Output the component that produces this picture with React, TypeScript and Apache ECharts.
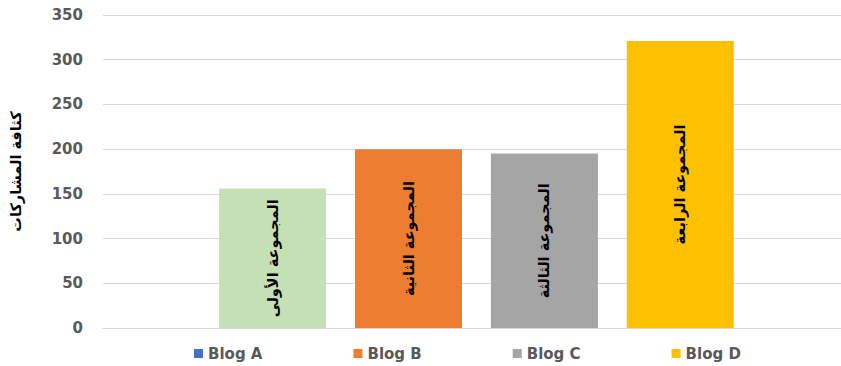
import React, { useEffect, useRef } from "react";
import * as echarts from "echarts";

const categories = [""];
const seriesNames = ["Blog A", "Blog B", "Blog C", "Blog D"];
const seriesValues = [156, 200, 195, 321];
const barLabels = ["المجموعة الأولى", "المجموعة الثانية", "المجموعة الثالثة", "المجموعة الرابعة"];
const legendColors = ["#4472C4", "#ED7D31", "#A5A5A5", "#FFC000"];
const barColors = ["#C5E0B4", "#ED7D31", "#A5A5A5", "#FFC000"];
const yTitle = "كثافة المشاركات";

export default function App() {
  const ref = useRef<HTMLDivElement>(null);
  useEffect(() => {
    if (!ref.current) return;
    const chart = echarts.init(ref.current, null, { renderer: "svg" });
    const spacer = {
      name: "_spacer",
      type: "bar",
      barWidth: 7,
      barGap: "27%",
      silent: true,
      data: ["-"],
    };
    chart.setOption({
      animation: false,
      backgroundColor: "#ffffff",
      grid: { left: 102, right: 0, top: 15, bottom: 38, containLabel: false },
      legend: {
        left: 194,
        top: 346,
        padding: 0,
        itemWidth: 9,
        itemHeight: 9,
        itemGap: 91,
        icon: "rect",
        textStyle: { color: "#595959", fontSize: 15, fontWeight: "bold", fontFamily: "DejaVu Sans" },
        data: seriesNames,
      },
      xAxis: {
        type: "category",
        data: categories,
        axisLine: { show: true, lineStyle: { color: "#D9D9D9", width: 1 } },
        axisTick: { show: false },
        axisLabel: { show: false },
      },
      yAxis: {
        type: "value",
        min: 0,
        max: 350,
        interval: 50,
        name: yTitle,
        nameLocation: "middle",
        nameGap: 80,
        nameRotate: 90,
        nameTextStyle: { color: "#000000", fontSize: 14.5, fontWeight: "bold", fontFamily: "DejaVu Sans" },
        axisLine: { show: false },
        axisTick: { show: false },
        axisLabel: { color: "#595959", fontSize: 15, fontWeight: "bold", fontFamily: "DejaVu Sans", margin: 20 },
        splitLine: { lineStyle: { color: "#D9D9D9", width: 1 } },
      },
      series: [
        spacer,
        ...seriesNames.map((name, i) => ({
          name,
          type: "bar",
          barWidth: 107,
          barGap: "27%",
          itemStyle: { color: legendColors[i] },
          label: {
            show: true,
            position: "inside",
            rotate: 90,
            formatter: barLabels[i],
            color: "#000000",
            fontSize: 14.5,
            fontWeight: "bold",
            fontFamily: "DejaVu Sans",
          },
          data: [{ value: seriesValues[i], itemStyle: { color: barColors[i] } }],
        })),
      ],
    });
    return () => chart.dispose();
  }, []);
  return <div ref={ref} style={{ position: "fixed", left: 0, top: 0, width: 841, height: 366 }} />;
}
